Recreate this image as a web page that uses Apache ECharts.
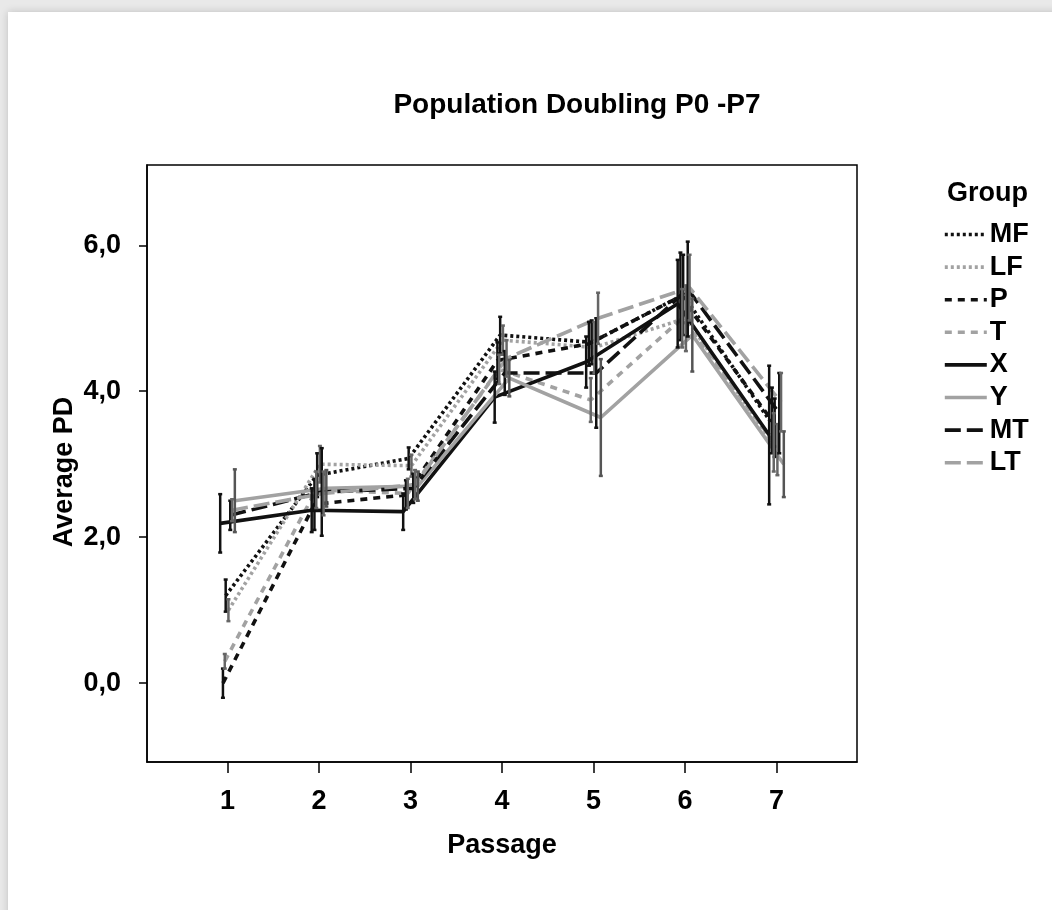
<!DOCTYPE html>
<html>
<head>
<meta charset="utf-8">
<title>Population Doubling P0 -P7</title>
<script src="https://cdn.jsdelivr.net/npm/echarts@6/dist/echarts.min.js"></script>
<style>
  html, body { margin: 0; padding: 0; width: 1052px; height: 910px; overflow: hidden; background: #e9e9e9; }
  #card { position: absolute; left: 8px; top: 12px; width: 1060px; height: 910px; background: #fff;
          box-shadow: 0 0 8px rgba(0,0,0,0.18); }
  #chart { position: absolute; left: 0; top: 0; width: 1052px; height: 910px; }
</style>
</head>
<body>
<div id="card"></div>
<div id="chart"></div>
<script>
// Passages on the x axis and tick values on the y axis
const passages = [1, 2, 3, 4, 5, 6, 7];
const yTicks = [0, 2, 4, 6];

// Groups, in legend order
const groups = ['MF', 'LF', 'P', 'T', 'X', 'Y', 'MT', 'LT'];

// Mean population doubling per passage, one array per group
const MF = [1.20, 2.85, 3.08, 4.77, 4.67, 5.32, 3.50];
const LF = [1.00, 3.00, 2.98, 4.70, 4.60, 5.00, 3.20];
const P  = [0.00, 2.45, 2.58, 4.42, 4.65, 5.30, 3.60];
const T  = [0.30, 2.65, 2.60, 4.30, 3.88, 5.00, 3.30];
const X  = [2.19, 2.37, 2.35, 3.92, 4.40, 5.20, 3.40];
const Y  = [2.50, 2.67, 2.70, 4.18, 3.64, 4.77, 3.00];
const MT = [2.30, 2.62, 2.67, 4.25, 4.25, 5.40, 3.70];
const LT = [2.37, 2.60, 2.72, 4.45, 5.00, 5.42, 3.85];

// Half-length of each error bar (± around the mean)
const MF_err = [0.22, 0.30, 0.15, 0.25, 0.30, 0.55, 0.40];
const LF_err = [0.15, 0.25, 0.15, 0.20, 0.35, 0.45, 0.35];
const P_err  = [0.20, 0.35, 0.20, 0.25, 0.30, 0.60, 0.45];
const T_err  = [0.10, 0.25, 0.20, 0.20, 0.30, 0.40, 0.40];
const X_err  = [0.40, 0.30, 0.25, 0.35, 0.35, 0.60, 0.95];
const Y_err  = [0.43, 0.25, 0.20, 0.25, 0.80, 0.50, 0.45];
const MT_err = [0.20, 0.60, 0.20, 0.30, 0.75, 0.65, 0.55];
const LT_err = [0.15, 0.30, 0.20, 0.25, 0.35, 0.45, 0.40];

const means = { MF, LF, P, T, X, Y, MT, LT };
const errs = { MF: MF_err, LF: LF_err, P: P_err, T: T_err, X: X_err, Y: Y_err, MT: MT_err, LT: LT_err };

// Drawing styles: colour, dash pattern and a small horizontal dodge per group
const BLACK = '#111111', GREY = '#a2a2a2';
const style = {
  MF: { color: BLACK, dash: [3, 3],  bar: '#111', dodge: -0.02 },
  LF: { color: GREY,  dash: [3, 3],  bar: '#666', dodge: 0.01 },
  P:  { color: BLACK, dash: [7, 6],  bar: '#111', dodge: -0.05 },
  T:  { color: GREY,  dash: [7, 6],  bar: '#666', dodge: -0.03 },
  X:  { color: BLACK, dash: 'solid', bar: '#111', dodge: -0.08 },
  Y:  { color: GREY,  dash: 'solid', bar: '#555', dodge: 0.08 },
  MT: { color: BLACK, dash: [16, 6], bar: '#111', dodge: 0.03 },
  LT: { color: GREY,  dash: [16, 6], bar: '#666', dodge: 0.05 }
};

const FONT = '"Liberation Sans", Arial, sans-serif';
const FS = 27;
const fmtComma = v => v.toFixed(1).replace('.', ',');

const lineSeries = groups.map(g => ({
  name: g,
  type: 'line',
  symbol: 'none',
  z: 3,
  lineStyle: { color: style[g].color, width: 3.6, type: style[g].dash, cap: 'butt' },
  itemStyle: { color: style[g].color },
  data: means[g].map((v, i) => [passages[i] + style[g].dodge, v])
}));

const errorSeries = groups.map(g => ({
  name: g + ' error',
  type: 'custom',
  z: 4,
  data: means[g].map((v, i) => [passages[i] + style[g].dodge, v - errs[g][i], v + errs[g][i]]),
  renderItem: (params, api) => {
    const x = api.value(0);
    const lo = api.coord([x, api.value(1)]);
    const hi = api.coord([x, api.value(2)]);
    const s = { stroke: style[g].bar, lineWidth: 2.5 };
    const cap = 2;
    return {
      type: 'group',
      children: [
        { type: 'line', shape: { x1: lo[0], y1: lo[1], x2: hi[0], y2: hi[1] }, style: s },
        { type: 'line', shape: { x1: hi[0] - cap, y1: hi[1], x2: hi[0] + cap, y2: hi[1] }, style: s },
        { type: 'line', shape: { x1: lo[0] - cap, y1: lo[1], x2: lo[0] + cap, y2: lo[1] }, style: s }
      ]
    };
  }
}));

const txt = { fontFamily: FONT, fontSize: FS, fontWeight: 'bold', color: '#000' };

const chart = echarts.init(document.getElementById('chart'), null, { renderer: 'canvas' });
chart.setOption({
  animation: false,
  title: [
    { text: 'Population Doubling P0 -P7', left: 572, top: 86, textAlign: 'center',
      textStyle: Object.assign({}, txt, { fontSize: 28 }) },
    { text: 'Group', left: 942, top: 175, textStyle: txt }
  ],
  // Vertical y-axis title
  graphic: [{
    type: 'text',
    x: 65, y: 472,
    rotation: Math.PI / 2,
    style: Object.assign({ text: 'Average PD', align: 'center', verticalAlign: 'middle',
      font: 'bold ' + FS + 'px ' + FONT, fill: '#000' })
  }],
  legend: {
    data: groups,
    orient: 'vertical',
    left: 938,
    top: 216,
    itemWidth: 42,
    itemHeight: 14,
    itemGap: 5.6,
    selectedMode: false,
    itemStyle: { opacity: 0 },
    lineStyle: { width: 3.6 },
    textStyle: Object.assign({ lineHeight: 24, padding: [0, 0, 0, -2] }, txt)
  },
  grid: {
    left: 147, top: 165, width: 710, height: 597,
    show: true, borderColor: '#000', borderWidth: 1.5, backgroundColor: '#fff'
  },
  xAxis: {
    type: 'value',
    min: 0.12, max: 7.88,
    name: 'Passage',
    nameLocation: 'middle',
    nameGap: 70,
    nameTextStyle: txt,
    axisLine: { show: true, onZero: false, lineStyle: { color: '#000', width: 1.5 } },
    axisTick: { show: true, length: 11, customValues: passages, lineStyle: { color: '#000', width: 1.5 } },
    axisLabel: Object.assign({ customValues: passages, margin: 26 }, txt),
    splitLine: { show: false }
  },
  yAxis: {
    type: 'value',
    min: -1.08, max: 7.1,
    axisLine: { show: true, onZero: false, lineStyle: { color: '#000', width: 1.5 } },
    axisTick: { show: true, length: 8, customValues: yTicks, lineStyle: { color: '#000', width: 1.5 } },
    axisLabel: Object.assign({ customValues: yTicks, margin: 26, formatter: fmtComma }, txt),
    splitLine: { show: false }
  },
  series: [...lineSeries, ...errorSeries]
});
</script>
</body>
</html>
